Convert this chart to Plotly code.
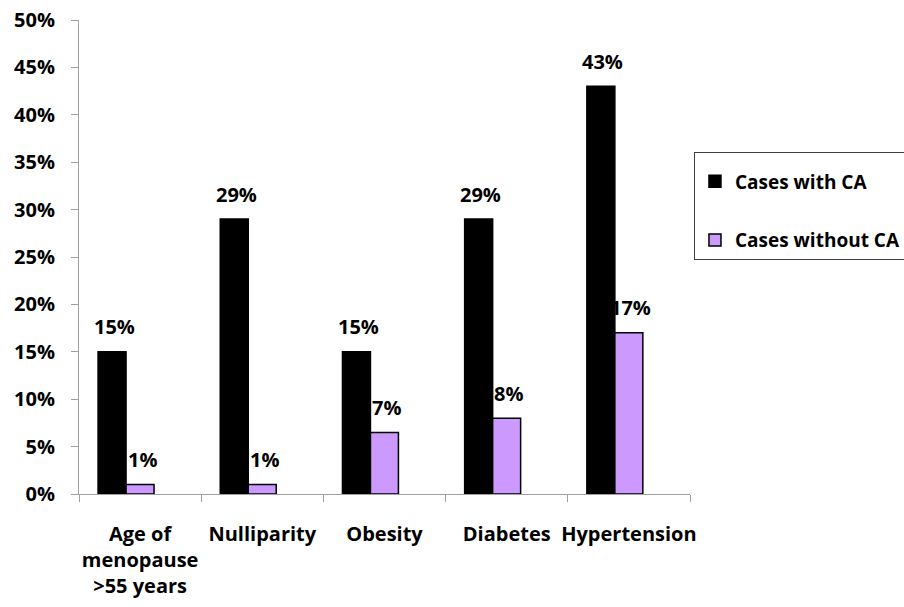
import plotly.graph_objects as go

categories = ["Age of<br>menopause<br>&gt;55 years", "Nulliparity", "Obesity", "Diabetes", "Hypertension"]
with_ca = [15, 29, 15, 29, 43]
without_ca = [1, 1, 6.5, 8, 17]
with_labels = ["15%", "29%", "15%", "29%", "43%"]
without_labels = ["1%", "1%", "7%", "8%", "17%"]
y_ticks = [0, 5, 10, 15, 20, 25, 30, 35, 40, 45, 50]

FONT = "Open Sans"
W = 0.229
OFF1 = -0.344
OFF2 = -0.115
xs = list(range(len(categories)))

fig = go.Figure()
fig.add_trace(go.Bar(
    x=xs, y=with_ca, name="Cases with CA", legendgroup="a",
    width=W, offset=OFF1,
    marker=dict(color="#000000", line=dict(color="#000000", width=1.5)),
))
fig.add_trace(go.Bar(
    x=xs, y=without_ca, name="Cases without CA", legendgroup="b",
    width=W, offset=OFF2,
    marker=dict(color="#CC99FF", line=dict(color="#000000", width=1.5)),
))

for i in xs:
    fig.add_annotation(x=i + OFF1 + W / 2, y=with_ca[i], text=with_labels[i],
                       xref="x", yref="y", showarrow=False, yanchor="middle",
                       yshift=25, xshift=2,
                       font=dict(family=FONT, size=20, color="#000", weight="bold"))
    fig.add_annotation(x=i + OFF2 + W / 2, y=without_ca[i], text=without_labels[i],
                       xref="x", yref="y", showarrow=False, yanchor="middle",
                       yshift=25, xshift=2,
                       font=dict(family=FONT, size=20, color="#000", weight="bold"))

fig.update_layout(
    width=904, height=607,
    margin=dict(l=79, r=214, t=20, b=113, autoexpand=False),
    paper_bgcolor="white", plot_bgcolor="white",
    barmode="overlay",
    font=dict(family=FONT, size=20, color="#000", weight="bold"),
    showlegend=True,
    legend=dict(
        x=1.0065, y=0.721, xanchor="left", yanchor="top",
        bordercolor="#404040", borderwidth=1,
        font=dict(family=FONT, size=19, color="#000", weight="bold"),
        tracegroupgap=31,
        title=dict(text=" ", font=dict(size=7)),
    ),
)
fig.update_xaxes(
    range=[-0.5, len(categories) - 0.5],
    tickmode="array", tickvals=xs, ticktext=categories, tickangle=0,
    ticks="", showgrid=False, zeroline=False,
    showline=True, linecolor="#a0a0a0", linewidth=1,
    ticklabelstandoff=22,
    minor=dict(tickmode="linear", tick0=-0.5, dtick=1, ticks="outside",
               ticklen=7, tickcolor="#a0a0a0", showgrid=False),
    tickfont=dict(family=FONT, size=20, color="#000", weight="bold"),
)
fig.update_yaxes(
    range=[0, 50], tickmode="array", tickvals=y_ticks,
    ticktext=[f"{v}%" for v in y_ticks],
    ticks="outside", ticklen=7, tickcolor="#a0a0a0",
    showgrid=False, zeroline=False,
    showline=True, linecolor="#a0a0a0", linewidth=1,
    ticklabelstandoff=12,
    tickfont=dict(family=FONT, size=20, color="#000", weight="bold"),
)

fig.write_html("out.html")
